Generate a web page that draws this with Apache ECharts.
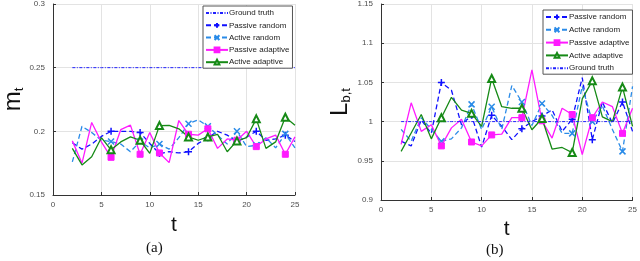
<!DOCTYPE html>
<html>
<head>
<meta charset="utf-8">
<script src="https://cdn.jsdelivr.net/npm/echarts@6/dist/echarts.min.js"></script>
<style>html,body{margin:0;padding:0;background:#fff}#c{width:640px;height:261px}</style>
</head>
<body>
<div id="c"></div>
<script>
// ---------- data ----------
const tValues = [2,3,4,5,6,7,8,9,10,11,12,13,14,15,16,17,18,19,20,21,22,23,24,25];
const xTicks = [0,5,10,15,20,25];

// panel (a): m_t
const groundTruthA = [0.25,0.25,0.25,0.25,0.25,0.25,0.25,0.25,0.25,0.25,0.25,0.25,0.25,0.25,0.25,0.25,0.25,0.25,0.25,0.25,0.25,0.25,0.25,0.25];
const passiveRandomA = [0.191,0.186,0.19,0.196,0.2,0.2,0.2,0.199,0.1905,0.1825,0.184,0.183,0.184,0.1905,0.195,0.2,0.197,0.192,0.1955,0.2,0.193,0.194,0.197,0.192];
const activeRandomA = [0.176,0.204,0.199,0.193,0.192,0.19,0.184,0.192,0.187,0.19,0.186,0.195,0.206,0.209,0.204,0.197,0.19,0.2,0.188,0.189,0.195,0.187,0.198,0.187];
const passiveAdaptiveA = [0.1925,0.175,0.207,0.1917,0.1796,0.2013,0.2049,0.182,0.199,0.183,0.1754,0.2085,0.1977,0.197,0.202,0.1866,0.194,0.193,0.2,0.188,0.194,0.197,0.182,0.1956];
const activeAdaptiveA = [0.1866,0.1736,0.18,0.1950,0.1855,0.1917,0.1956,0.193,0.1827,0.2045,0.2047,0.202,0.1956,0.193,0.1956,0.1977,0.184,0.1925,0.195,0.2098,0.1866,0.1917,0.2111,0.2047];

// panel (b): L_{b,t}
const groundTruthB = [1,1,1,1,1,1,1,1,1,1,1,1,1,1,1,1,1,1,1,1,1,1,1,1];
const passiveRandomB = [0.975,0.969,1.002,0.985,1.05,1.04,0.996,1.008,0.9675,1.008,0.994,0.977,0.991,1.0,1.007,1.015,0.9875,1.003,1.056,0.977,1.025,0.998,1.025,0.9875];
const activeRandomB = [0.99,0.975,1.005,0.99,0.975,0.978,0.992,1.022,0.99,1.019,0.99,1.046,1.025,0.995,1.023,1.008,0.985,0.985,1.045,1.0,1.02,0.99,0.962,1.045];
const passiveAdaptiveB = [0.971,1.024,0.9875,0.996,0.969,0.992,1.003,0.974,0.969,0.983,0.984,1.005,1.005,1.066,1.001,0.979,1.017,1.009,0.958,1.005,1.025,1.019,0.985,1.017];
const activeAdaptiveB = [0.962,0.9855,1.009,0.978,1.005,1.031,1.0146,1.0105,0.994,1.055,1.019,1.017,1.017,0.9896,1.004,0.965,0.967,0.9605,1.029,1.052,1.006,1.0,1.044,0.994];

const markerTs = [6,9,11,14,16,19,21,24];
const legendA = ['Ground truth','Passive random','Active random','Passive adaptive','Active adaptive'];
const legendB = ['Passive random','Active random','Passive adaptive','Active adaptive','Ground truth'];

// ---------- styles ----------
const FONT = 'Liberation Sans, Arial, sans-serif';
const styles = {
  'Ground truth':    {color:'#2020ff', type:[3,1.5,1,1.5], width:1, symbol:'none'},
  'Passive random':  {color:'#1010ff', type:[5,3], width:1.3, symbol:'path://M5,0L5,10M0,5L10,5', size:7, stroke:true},
  'Active random':   {color:'#2a8be8', type:[5,3], width:1.3, symbol:'path://M0,0L10,10M10,0L0,10', size:6, stroke:true},
  'Passive adaptive':{color:'#ff1aff', type:'solid', width:1.3, symbol:'rect', size:6},
  'Active adaptive': {color:'#168a16', type:'solid', width:1.3, symbol:'emptyTriangle', size:7}
};

function mk(name, values, idx) {
  const s = styles[name];
  const data = tValues.map((t, i) => {
    const item = {value:[t, values[i]]};
    if (markerTs.indexOf(t) < 0) item.symbol = 'none';
    return item;
  });
  const series = {
    name: name, type:'line', xAxisIndex: idx, yAxisIndex: idx,
    data: data, symbol: s.symbol, symbolSize: s.size || 0, showAllSymbol: true,
    lineStyle: {color: s.color, width: s.width, type: s.type},
    itemStyle: s.stroke ? {color:'rgba(0,0,0,0)', borderColor: s.color, borderWidth: 1.5}
                        : {color: s.color, borderColor: s.color, borderWidth: 1},
    animation: false, silent: true, z: 3
  };
  if (name === 'Ground truth') { series.symbol = 'none'; series.itemStyle = {color: s.color}; }
  return series;
}

function legendData(names) {
  return names.map(n => n === 'Ground truth' ? {name:n, itemStyle:{opacity:0}} : {name:n});
}

const axisCommon = {
  axisLine: {show: true, lineStyle: {color:'#333', width:1}},
  axisTick: {show: true, inside: true, length: 3, lineStyle: {color:'#333'}},
  axisLabel: {color:'#4d4d4d', fontSize: 8, fontFamily: FONT},
  splitLine: {show: true, lineStyle: {color:'#e3e3e3', width: 1}}
};

const option = {
  animation: false,
  grid: [
    {left: 47, top: 2, width: 248, height: 193},
    {left: 381, top: 2, width: 254, height: 198}
  ],
  xAxis: [
    Object.assign({}, axisCommon, {type:'value', gridIndex:0, min:0, max:25, interval:5,
      name:'t', nameLocation:'middle', nameGap:20, nameTextStyle:{fontSize:21, fontFamily:FONT, color:'#111'},
      axisLabel:{color:'#4d4d4d', fontSize:8, fontFamily:FONT, margin:6}}),
    Object.assign({}, axisCommon, {type:'value', gridIndex:1, min:0, max:25, interval:5,
      name:'t', nameLocation:'middle', nameGap:19, nameTextStyle:{fontSize:21, fontFamily:FONT, color:'#111'},
      axisLabel:{color:'#4d4d4d', fontSize:8, fontFamily:FONT, margin:6}})
  ],
  yAxis: [
    Object.assign({}, axisCommon, {type:'value', gridIndex:0, min:0.15, max:0.3, interval:0.05,
      name:'{m|m}{s|t}', nameLocation:'middle', nameGap:26, nameRotate:90,
      nameTextStyle:{color:'#111', fontFamily:FONT, rich:{m:{fontSize:24, fontFamily:FONT, color:'#111'}, s:{fontSize:13, fontFamily:FONT, color:'#111', padding:[12,0,0,0]}}}}),
    Object.assign({}, axisCommon, {type:'value', gridIndex:1, min:0.9, max:1.15, interval:0.05,
      name:'{m|L}{s|b,t}', nameLocation:'middle', nameGap:28, nameRotate:90,
      nameTextStyle:{color:'#111', fontFamily:FONT, rich:{m:{fontSize:24, fontFamily:FONT, color:'#111'}, s:{fontSize:13, fontFamily:FONT, color:'#111', padding:[12,0,0,0]}}}})
  ],
  legend: [
    {data: legendData(legendA), orient:'vertical', left: 203, top: 6, itemWidth: 22, itemHeight: 6, itemGap: 4.3,
     padding:[3,3,2,2], backgroundColor:'#fff', borderColor:'#555', borderWidth:1, selectedMode:false,
     textStyle:{fontSize:8, fontFamily:FONT, color:'#222', padding:[0,0,0,-4]}},
    {data: legendData(legendB), orient:'vertical', left: 543, top: 10, itemWidth: 22, itemHeight: 6, itemGap: 4.8,
     padding:[3,3,2,2], backgroundColor:'#fff', borderColor:'#555', borderWidth:1, selectedMode:false,
     textStyle:{fontSize:8, fontFamily:FONT, color:'#222', padding:[0,0,0,-4]}}
  ],
  graphic: [
    {type:'text', left: 146, top: 241, style:{text:'(a)', font:'15px "Liberation Serif", "Times New Roman", serif', fill:'#111'}},
    {type:'text', left: 486, top: 243, style:{text:'(b)', font:'15px "Liberation Serif", "Times New Roman", serif', fill:'#111'}}
  ],
  series: [
    mk('Ground truth', groundTruthA, 0),
    mk('Passive random', passiveRandomA, 0),
    mk('Active random', activeRandomA, 0),
    mk('Passive adaptive', passiveAdaptiveA, 0),
    mk('Active adaptive', activeAdaptiveA, 0),
    mk('Passive random', passiveRandomB, 1),
    mk('Active random', activeRandomB, 1),
    mk('Passive adaptive', passiveAdaptiveB, 1),
    mk('Active adaptive', activeAdaptiveB, 1),
    mk('Ground truth', groundTruthB, 1)
  ]
};

const chart = echarts.init(document.getElementById('c'), null, {renderer:'canvas'});
chart.setOption(option);
</script>
</body>
</html>
